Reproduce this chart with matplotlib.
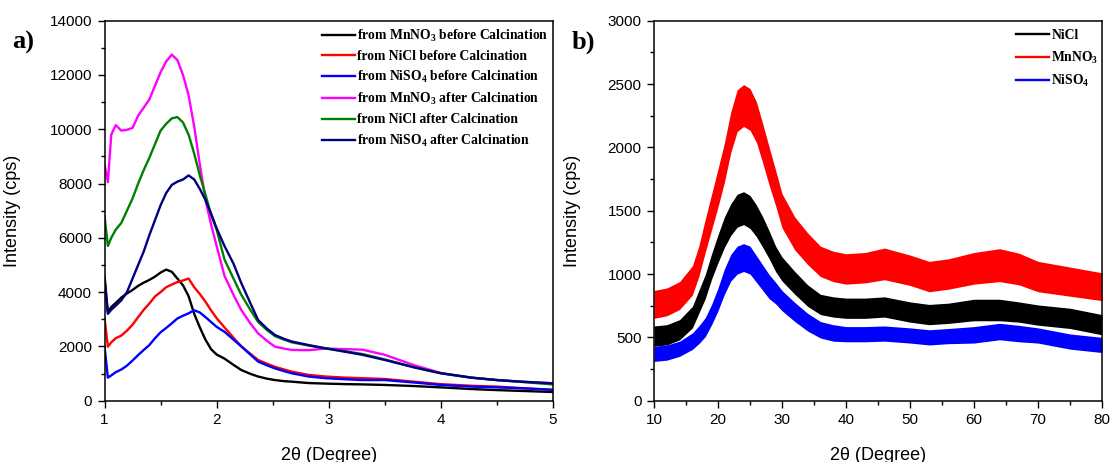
import numpy as np
import matplotlib
matplotlib.use("Agg")
import matplotlib.pyplot as plt
from matplotlib.lines import Line2D
from matplotlib.ticker import MultipleLocator

plt.rcParams['font.family'] = ['Liberation Sans', 'DejaVu Sans']
plt.rcParams['mathtext.fontset'] = 'custom'
plt.rcParams['mathtext.rm'] = 'Liberation Serif:bold'
plt.rcParams['mathtext.bf'] = 'Liberation Serif:bold'
plt.rcParams['mathtext.default'] = 'rm'

# ---- panel a) : low angle, six samples ----
x_left = [1.0, 1.03, 1.06, 1.1, 1.15, 1.2, 1.25, 1.3, 1.35, 1.4, 1.45, 1.5, 1.55, 1.6,
          1.65, 1.7, 1.75, 1.8, 1.85, 1.9, 1.95, 2.0, 2.07, 2.15, 2.22, 2.3, 2.37, 2.45,
          2.52, 2.6, 2.67, 2.82, 2.97, 3.15, 3.3, 3.5, 3.76, 4.0, 4.27, 4.5, 4.72, 5.0]

mn_before = [4600, 3250, 3450, 3600, 3800, 3950, 4080, 4230, 4350, 4450, 4570, 4720, 4830, 4750,
             4500, 4250, 3850, 3200, 2700, 2250, 1900, 1700, 1550, 1320, 1130, 990, 890, 810,
             760, 720, 700, 650, 630, 610, 600, 580, 540, 490, 430, 390, 360, 320]
nicl_before = [3050, 1990, 2150, 2300, 2400, 2580, 2800, 3080, 3350, 3580, 3840, 4000, 4180, 4280,
               4370, 4430, 4500, 4180, 3930, 3650, 3330, 3040, 2700, 2320, 2000, 1730, 1500, 1360,
               1250, 1150, 1070, 950, 890, 850, 830, 800, 700, 610, 550, 520, 460, 400]
niso4_before = [2000, 850, 930, 1050, 1150, 1290, 1480, 1680, 1870, 2050, 2300, 2520, 2680, 2850,
                3030, 3130, 3220, 3330, 3250, 3080, 2900, 2720, 2540, 2250, 2000, 1700, 1440, 1300,
                1190, 1090, 1010, 890, 830, 790, 760, 760, 670, 580, 520, 490, 460, 400]
mn_after = [8700, 8050, 9800, 10150, 9950, 9980, 10050, 10500, 10800, 11100, 11600, 12100, 12500, 12750,
            12550, 12000, 11250, 10100, 8700, 7400, 6500, 5700, 4600, 3900, 3340, 2850, 2480, 2200,
            1990, 1920, 1870, 1860, 1920, 1900, 1880, 1690, 1310, 1020, 850, 760, 700, 640]
nicl_after = [6800, 5700, 6000, 6300, 6550, 7000, 7450, 8000, 8500, 8950, 9450, 9950, 10200, 10400,
              10450, 10250, 9800, 9100, 8300, 7600, 6850, 6300, 5200, 4500, 3900, 3350, 2900, 2600,
              2380, 2250, 2150, 2030, 1930, 1820, 1720, 1520, 1230, 1010, 850, 760, 690, 600]
niso4_after = [4500, 3200, 3350, 3500, 3700, 4000, 4500, 5000, 5500, 6100, 6650, 7200, 7650, 7950,
               8070, 8150, 8300, 8150, 7800, 7400, 6900, 6350, 5700, 5050, 4330, 3600, 2970, 2650,
               2420, 2280, 2180, 2050, 1930, 1800, 1690, 1500, 1230, 1010, 850, 760, 700, 640]

left_series = [mn_before, nicl_before, niso4_before, mn_after, nicl_after, niso4_after]
left_labels = ["from MnNO$_3$ before Calcination", "from NiCl before Calcination",
               "from NiSO$_4$ before Calcination", "from MnNO$_3$ after Calcination",
               "from NiCl after Calcination", "from NiSO$_4$ after Calcination"]
left_colors = ["black", "#ff0000", "#0000ff", "#ff00ff", "#008000", "#000080"]

# ---- panel b) : wide angle, noisy bands (centre and half spread) ----
x_right = [10, 12, 14, 16, 17, 18, 19, 20, 21, 22, 23, 24, 25, 26, 27, 28, 29, 30,
           32, 34, 36, 38, 40, 43, 46, 50, 53, 56, 60, 64, 67, 70, 75, 80]
nicl_mid = [510, 520, 560, 660, 780, 900, 1060, 1200, 1330, 1430, 1500, 1520, 1490, 1420, 1330, 1230, 1120, 1040,
            930, 830, 760, 740, 730, 730, 740, 700, 680, 690, 716, 716, 700, 676, 650, 600]
nicl_spread = [80, 80, 80, 85, 90, 95, 100, 110, 120, 125, 130, 130, 130, 125, 120, 110, 100, 95,
               90, 85, 80, 80, 80, 80, 80, 80, 80, 80, 85, 85, 80, 80, 80, 80]
mn_mid = [760, 780, 830, 950, 1100, 1300, 1490, 1680, 1880, 2120, 2290, 2330, 2300, 2200, 2030, 1850, 1680, 1500,
          1320, 1200, 1100, 1060, 1040, 1050, 1080, 1030, 980, 1000, 1045, 1070, 1040, 980, 940, 900]
mn_spread = [110, 110, 110, 115, 120, 130, 140, 150, 155, 160, 165, 165, 165, 160, 155, 150, 140, 135,
             130, 125, 120, 120, 120, 120, 125, 120, 120, 120, 125, 130, 125, 120, 115, 110]
niso4_mid = [370, 380, 410, 470, 520, 580, 680, 800, 940, 1050, 1110, 1130, 1110, 1040, 970, 900, 850, 790,
             700, 620, 560, 535, 525, 525, 530, 515, 500, 510, 520, 546, 530, 515, 467, 440]
niso4_spread = [60, 60, 60, 65, 70, 75, 80, 90, 100, 105, 110, 110, 110, 105, 100, 95, 85, 80,
                75, 70, 65, 65, 60, 60, 60, 60, 60, 60, 65, 65, 65, 60, 60, 60]

right_mid = [nicl_mid, mn_mid, niso4_mid]
right_spread = [nicl_spread, mn_spread, niso4_spread]
right_labels = ["NiCl", "MnNO$_3$", "NiSO$_4$"]
right_colors = ["black", "#ff0000", "#0000ff"]

fig = plt.figure(figsize=(11.13, 4.62), dpi=100)
ax1 = fig.add_axes([0.0939, 0.1327, 0.403, 0.8225])
ax2 = fig.add_axes([0.5876, 0.1327, 0.4025, 0.8225])

for y, lab, c in zip(left_series, left_labels, left_colors):
    ax1.plot(x_left, y, color=c, lw=1.7, label=lab)

for mid, spr, lab, c in zip(right_mid, right_spread, right_labels, right_colors):
    mid = np.array(mid)
    spr = np.array(spr)
    ax2.fill_between(x_right, mid - spr, mid + spr, color=c, lw=0)

ax1.set_xlim(1, 5)
ax1.set_ylim(0, 14000)
ax1.xaxis.set_major_locator(MultipleLocator(1))
ax1.xaxis.set_minor_locator(MultipleLocator(0.5))
ax1.yaxis.set_major_locator(MultipleLocator(2000))
ax1.yaxis.set_minor_locator(MultipleLocator(1000))

ax2.set_xlim(10, 80)
ax2.set_ylim(0, 3000)
ax2.xaxis.set_major_locator(MultipleLocator(10))
ax2.xaxis.set_minor_locator(MultipleLocator(5))
ax2.yaxis.set_major_locator(MultipleLocator(500))
ax2.yaxis.set_minor_locator(MultipleLocator(250))

for ax in (ax1, ax2):
    ax.tick_params(which='major', direction='out', length=5, width=1, labelsize=11, pad=4,
                   top=False, right=False)
    ax.tick_params(which='minor', direction='out', length=3, width=1, top=False, right=False)
    for sp in ax.spines.values():
        sp.set_linewidth(1.1)
    ax.set_xlabel("2θ (Degree)", fontsize=13, labelpad=14)
    ax.set_ylabel("Intensity (cps)", fontsize=13)

ax1.yaxis.set_label_coords(-0.186, 0.5)
ax2.yaxis.set_label_coords(-0.163, 0.5)

leg_font = {'family': 'Liberation Serif', 'weight': 'bold', 'size': 9.8}
ax1.legend(loc='upper left', bbox_to_anchor=(0.485, 0.982), frameon=False, prop=leg_font,
           handlelength=2.4, handletextpad=0.2, labelspacing=0.45, borderpad=0, borderaxespad=0)

handles = [Line2D([], [], color=c, lw=1.7) for c in right_colors]
ax2.legend(handles, right_labels, loc='upper left', bbox_to_anchor=(0.808, 0.978), frameon=False,
           prop=leg_font, handlelength=2.4, handletextpad=0.2, labelspacing=0.55,
           borderpad=0, borderaxespad=0)

fig.text(12 / 1113, 1 - 42 / 462, "a)", fontsize=19, fontweight='bold',
         family='Liberation Serif', va='center', ha='left')
fig.text(572 / 1113, 1 - 42 / 462, "b)", fontsize=19, fontweight='bold',
         family='Liberation Serif', va='center', ha='left')

fig.savefig("out.png", dpi=100)
